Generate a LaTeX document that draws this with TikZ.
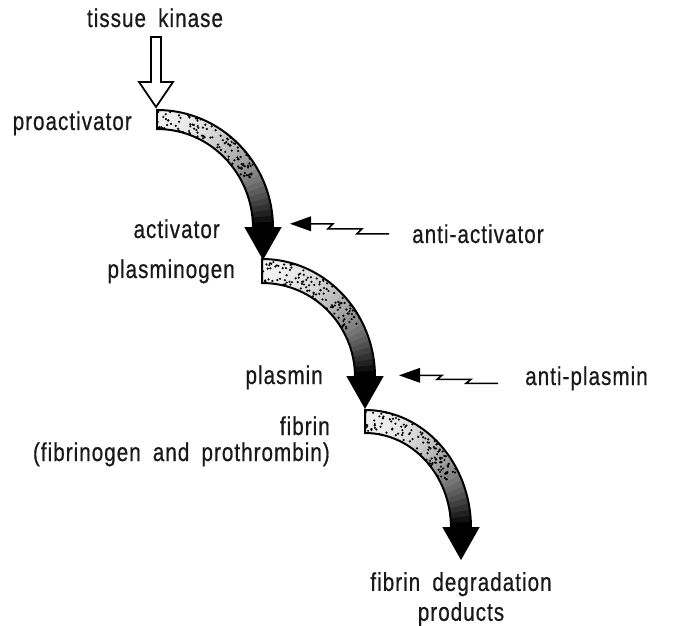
\documentclass[tikz,border=0pt]{standalone}
\usepackage{fontspec}
\setmainfont{Liberation Sans}[FakeStretch=0.8,LetterSpace=4,WordSpace=1.8,FakeBold=0.6]
\usetikzlibrary{arrows.meta, calc}

\newcommand{\lblfont}{\fontsize{22}{25.5}\selectfont}

% one curved stippled band with its black head; #1 corner, #2 reach, #3 width
\newcommand{\fibband}[3]{%
  \pgfmathsetmacro{\ox}{#2+10}\pgfmathsetmacro{\ix}{#2-10}
  \pgfmathsetmacro{\iy}{118-#3}
  \begin{scope}[shift={($(#1)+(0,-118)$)}]
    \foreach \st in {0,...,29}{
      \pgfmathsetmacro{\angA}{90-3*\st}
      \pgfmathsetmacro{\angB}{\angA-3.6}
      \pgfmathsetmacro{\shd}{6+94*(\st/29)^2.1}
      \fill[black!\shd] ({\ox*cos(\angA)},{118*sin(\angA)})
        arc[start angle=\angA, end angle=\angB, x radius=\ox, y radius=118]
        -- ({\ix*cos(\angB)},{\iy*sin(\angB)})
        arc[start angle=\angB, end angle=\angA, x radius=\ix, y radius=\iy] -- cycle;
    }
    \foreach \dd in {1,...,120}{
      \pgfmathsetmacro{\ang}{90-62*rnd}
      \pgfmathsetmacro{\rr}{rnd}
      \fill ({(\ix+\rr*(\ox-\ix))*cos(\ang)},{(\iy+\rr*(118-\iy))*sin(\ang)}) circle[radius=1.2];
    }
    \fill (\ix-7,0) -- (\ox+7,0) -- (#2,-30) -- cycle;
    \draw[bandline] (0,118) arc[start angle=90, end angle=0, x radius=\ox, y radius=118]
      -- (\ox+7,0) -- (#2,-30) -- (\ix-7,0) -- (\ix,0)
      arc[start angle=0, end angle=90, x radius=\ix, y radius=\iy] -- cycle;
  \end{scope}}

\begin{document}
\begin{tikzpicture}[x=0.03cm, y=0.03cm,
    lbl/.style={font=\lblfont, inner sep=0pt, text=black!90},
    bandline/.style={line width=1.7pt, miter limit=4},
    openarr/.style={line width=1.5pt, fill=white},
    zig/.style={line width=1.3pt},
    zighead/.style={fill=black}]
  \useasboundingbox (0,0) rectangle (677,-626);
  \fill[white] (0,0) rectangle (677,-626);
  \pgfmathsetseed{4711}
  % labels
  \node[lbl, anchor=base] (tk) at (155,-27) {tissue kinase};
  \node[lbl, anchor=base east] (proact) at (132,-130) {proactivator};
  \node[lbl, anchor=base east] (act) at (220,-238) {activator};
  \node[lbl, anchor=base east] (plg) at (235,-278) {plasminogen};
  \node[lbl, anchor=base west] (antiact) at (412,-243) {anti-activator};
  \node[lbl, anchor=base east] (pla) at (323,-384) {plasmin};
  \node[lbl, anchor=base west] (antipl) at (525,-385) {anti-plasmin};
  \node[lbl, anchor=base east] (fib) at (330,-435) {fibrin};
  \node[lbl, anchor=base east] (fibx) at (330,-461) {(fibrinogen and prothrombin)};
  \node[lbl, align=center, anchor=north] (fdp) at (461,-572) {fibrin degradation\\products};
  % band corners
  \coordinate (kin) at (156,-107);
  \coordinate (c1) at (157,-110);
  \coordinate (c2) at (262,-259);
  \coordinate (c3) at (365,-410);
  % open arrow from tissue kinase
  \draw[openarr] (kin) -- ++(-17,25) -- ++(12,0) -- ++(0,45) -- ++(10,0)
    -- ++(0,-45) -- ++(12,0) -- cycle;
  % the three steps
  \fibband{c1}{106}{19}
  \fibband{c2}{103}{24}
  \fibband{c3}{96}{23}
  % inhibitors
  \draw[zig] ($(antiact.west)+(-23,0)$) -- ++(-32,0) -- ++(5,5) -- ++(-34,0)
    -- ++(5,5) -- ++(-22,0) coordinate (h1);
  \fill[zighead] (h1) -- ++(0,7.5) -- ++(-21,-7.5) -- ++(21,-7.5) -- cycle;
  \draw[zig] ($(antipl.west)+(-27,-5)$) -- ++(-32,0) -- ++(5,4) -- ++(-34,0)
    -- ++(5,4) -- ++(-22,0) coordinate (h2);
  \fill[zighead] (h2) -- ++(0,7.5) -- ++(-21,-7.5) -- ++(21,-7.5) -- cycle;
\end{tikzpicture}
\end{document}
